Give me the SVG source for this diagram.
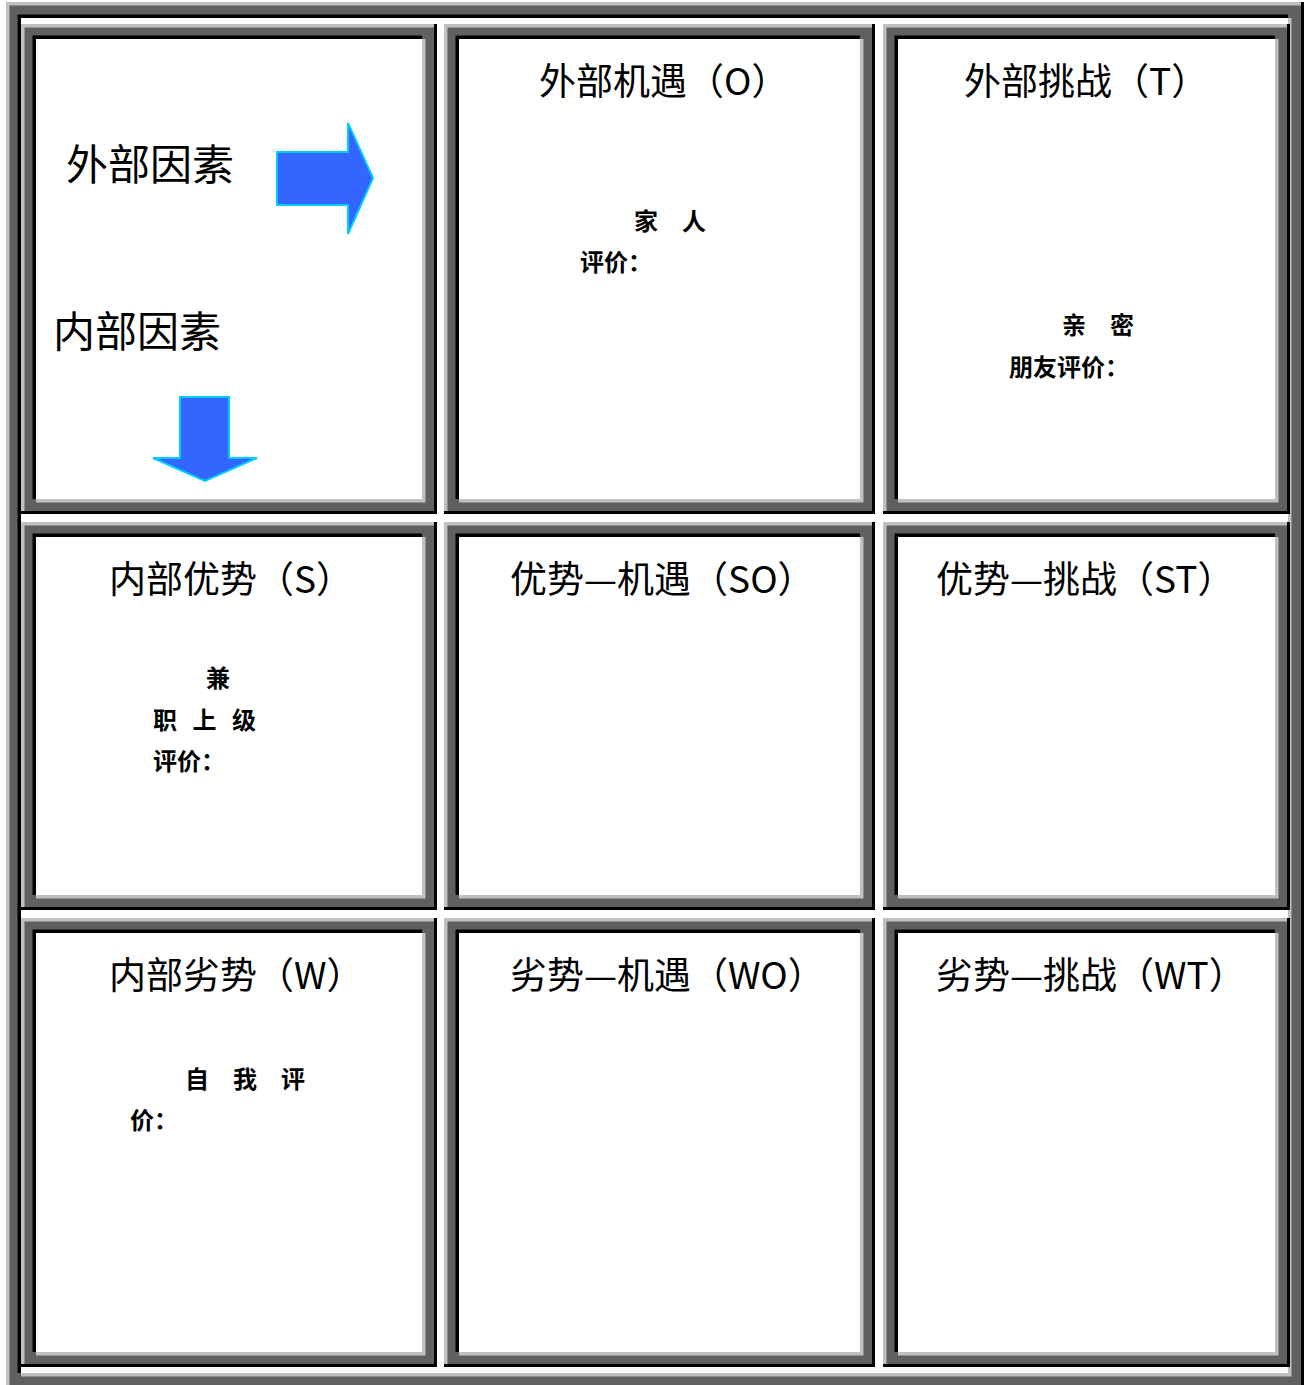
<svg xmlns="http://www.w3.org/2000/svg" width="1310" height="1385" viewBox="0 0 1310 1385">
<style>
.dk{fill:#606060}
.wh{fill:#ffffff}
.lt{fill:none;stroke:#c0c0c0;stroke-width:3.5;stroke-linejoin:miter}
.bk{fill:none;stroke:#000000;stroke-width:3.5;stroke-linejoin:miter}
.bo{fill:none;stroke:#000000;stroke-width:3;stroke-linejoin:miter}
.t{font-family:"Noto Sans CJK SC","Noto Sans CJK JP",sans-serif;font-size:37px;fill:#000}
.big{font-family:"Noto Sans CJK SC","Noto Sans CJK JP",sans-serif;font-size:42px;fill:#000}
.s{font-family:"Noto Sans CJK SC","Noto Sans CJK JP",sans-serif;font-size:24px;font-weight:700;fill:#000}
.arr{fill:#3366ff;stroke:#00ccff;stroke-width:2;stroke-linejoin:miter}
</style>
<rect width="1310" height="1385" fill="#ffffff"/>
<g id="frame">
<rect class="dk" x="6" y="2" width="1298" height="1387"/>
<rect class="wh" x="21" y="18" width="1267" height="1355"/>
<path class="lt" d="M7.75 1389 V3.75 H1304"/>
<path class="bk" d="M19.25 1373 V16.25 H1288"/>
<path class="lt" d="M21 1374.75 H1289.75 V18"/>
<path class="bo" d="M6 1387.5 H1302.5 V2"/>
</g>
<g id="cell-factors">
<rect class="dk" x="21" y="24" width="416" height="490"/>
<rect class="wh" x="36" y="39" width="386" height="460"/>
<path class="lt" d="M22.75 514 V25.75 H437"/>
<path class="bk" d="M34.25 499 V37.25 H422"/>
<path class="lt" d="M36 500.75 H423.75 V39"/>
<path class="bo" d="M21 512.5 H435.5 V24"/>
<text class="big" x="66" y="180">外部因素</text>
<text class="big" x="53" y="347">内部因素</text>
<polygon class="arr" points="277,152 348,152 348,123 373,178 348,234 348,205 277,205"/>
<polygon class="arr" points="180,397 229,397 229,458 257,458 205,481 153,458 180,458"/>
</g>
<g id="cell-O">
<rect class="dk" x="444" y="24" width="431" height="490"/>
<rect class="wh" x="459" y="39" width="401" height="460"/>
<path class="lt" d="M445.75 514 V25.75 H875"/>
<path class="bk" d="M457.25 499 V37.25 H860"/>
<path class="lt" d="M459 500.75 H861.75 V39"/>
<path class="bo" d="M444 512.5 H873.5 V24"/>
<text class="t" x="539" y="95">外部机遇（O）</text>
<text class="s" x="634" y="230">家　人</text>
<text class="s" x="580" y="271">评价：</text>
</g>
<g id="cell-T">
<rect class="dk" x="883" y="24" width="407" height="490"/>
<rect class="wh" x="898" y="39" width="377" height="460"/>
<path class="lt" d="M884.75 514 V25.75 H1290"/>
<path class="bk" d="M896.25 499 V37.25 H1275"/>
<path class="lt" d="M898 500.75 H1276.75 V39"/>
<path class="bo" d="M883 512.5 H1288.5 V24"/>
<text class="t" x="964" y="95">外部挑战（T）</text>
<text class="s" x="1062" y="334">亲　密</text>
<text class="s" x="1009" y="376">朋友评价：</text>
</g>
<g id="cell-S">
<rect class="dk" x="21" y="522" width="416" height="388"/>
<rect class="wh" x="36" y="537" width="386" height="358"/>
<path class="lt" d="M22.75 910 V523.75 H437"/>
<path class="bk" d="M34.25 895 V535.25 H422"/>
<path class="lt" d="M36 896.75 H423.75 V537"/>
<path class="bo" d="M21 908.5 H435.5 V522"/>
<text class="t" x="109" y="593">内部优势（S）</text>
<text class="s" x="206" y="687">兼</text>
<text class="s" x="153" y="729" letter-spacing="15.5">职上级</text>
<text class="s" x="153" y="770">评价：</text>
</g>
<g id="cell-SO">
<rect class="dk" x="444" y="522" width="431" height="388"/>
<rect class="wh" x="459" y="537" width="401" height="358"/>
<path class="lt" d="M445.75 910 V523.75 H875"/>
<path class="bk" d="M457.25 895 V535.25 H860"/>
<path class="lt" d="M459 896.75 H861.75 V537"/>
<path class="bo" d="M444 908.5 H873.5 V522"/>
<text class="t" x="510" y="593">优势—机遇（SO）</text>
</g>
<g id="cell-ST">
<rect class="dk" x="883" y="522" width="407" height="388"/>
<rect class="wh" x="898" y="537" width="377" height="358"/>
<path class="lt" d="M884.75 910 V523.75 H1290"/>
<path class="bk" d="M896.25 895 V535.25 H1275"/>
<path class="lt" d="M898 896.75 H1276.75 V537"/>
<path class="bo" d="M883 908.5 H1288.5 V522"/>
<text class="t" x="936" y="593">优势—挑战（ST）</text>
</g>
<g id="cell-W">
<rect class="dk" x="21" y="918" width="416" height="449"/>
<rect class="wh" x="36" y="933" width="386" height="419"/>
<path class="lt" d="M22.75 1367 V919.75 H437"/>
<path class="bk" d="M34.25 1352 V931.25 H422"/>
<path class="lt" d="M36 1353.75 H423.75 V933"/>
<path class="bo" d="M21 1365.5 H435.5 V918"/>
<text class="t" x="109" y="989">内部劣势（W）</text>
<text class="s" x="185" y="1088">自　我　评</text>
<text class="s" x="130" y="1129">价：</text>
</g>
<g id="cell-WO">
<rect class="dk" x="444" y="918" width="431" height="449"/>
<rect class="wh" x="459" y="933" width="401" height="419"/>
<path class="lt" d="M445.75 1367 V919.75 H875"/>
<path class="bk" d="M457.25 1352 V931.25 H860"/>
<path class="lt" d="M459 1353.75 H861.75 V933"/>
<path class="bo" d="M444 1365.5 H873.5 V918"/>
<text class="t" x="510" y="989">劣势—机遇（WO）</text>
</g>
<g id="cell-WT">
<rect class="dk" x="883" y="918" width="407" height="449"/>
<rect class="wh" x="898" y="933" width="377" height="419"/>
<path class="lt" d="M884.75 1367 V919.75 H1290"/>
<path class="bk" d="M896.25 1352 V931.25 H1275"/>
<path class="lt" d="M898 1353.75 H1276.75 V933"/>
<path class="bo" d="M883 1365.5 H1288.5 V918"/>
<text class="t" x="936" y="989">劣势—挑战（WT）</text>
</g>
<g id="connectors"></g>
</svg>
